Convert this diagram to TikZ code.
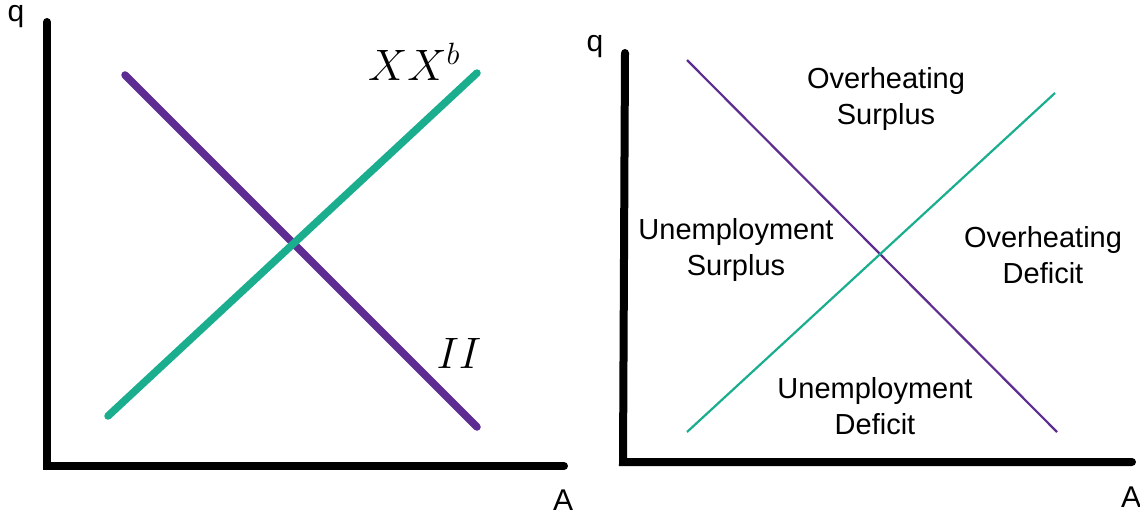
\RequirePackage{fix-cm}
\documentclass[tikz,border=0pt]{standalone}
\usepackage{fontspec}
\newfontfamily\hv{Liberation Sans}
\definecolor{ipurple}{RGB}{93,45,145}
\definecolor{igreen}{RGB}{26,174,142}
\begin{document}
\begin{tikzpicture}[x=1pt,y=-1pt,
  axis/.style={line width=8pt,line cap=round,black},
  thick curve/.style={line width=7.5pt,line cap=round},
  thin curve/.style={line width=2.2pt},
  lbl/.style={font=\hv\fontsize{29}{36}\selectfont,align=center,inner sep=0pt},
  axlbl/.style={font=\hv\fontsize{30}{34}\selectfont,inner sep=0pt},
  mlbl/.style={inner sep=0pt,font=\fontsize{44}{50}\selectfont}]
\useasboundingbox (0,0) rectangle (1140,516);
% left panel
\coordinate (Lo) at (47,466);
\coordinate (Ly) at (47,22);
\coordinate (Lx) at (564,466);
\draw[axis] (Ly) -- (Lo) -- (Lx);
\node[axlbl] (Lq) at (16,17) {q};
\node[axlbl] (LA) at (563,500) {A};
\coordinate (LI1) at (125,75);
\coordinate (LI2) at (477,427);
\coordinate (LX1) at (108,416);
\coordinate (LX2) at (477,73);
\draw[thick curve,ipurple] (LI1) -- (LI2);
\draw[thick curve,igreen] (LX1) -- (LX2);
\node[mlbl] (XX) at (414,62) {$XX^b$};
\node[mlbl] (II) at (459,353) {$II$};
% right panel
\coordinate (Ro) at (623,462);
\coordinate (Ry) at (625,53);
\coordinate (Rx) at (1132,462);
\draw[axis] (Ry) -- (Ro) -- (Rx);
\node[axlbl] (Rq) at (595,47) {q};
\node[axlbl] (RA) at (1131,497) {A};
\coordinate (RI1) at (687,60);
\coordinate (RI2) at (1057,432);
\coordinate (RX1) at (687,432);
\coordinate (RX2) at (1055,93);
\draw[thin curve,ipurple] (RI1) -- (RI2);
\draw[thin curve,igreen] (RX1) -- (RX2);
\node[lbl] (OS) at (886,99) {Overheating\\Surplus};
\node[lbl] (US) at (736,250) {Unemployment\\Surplus};
\node[lbl] (OD) at (1043,255) {Overheating\\Deficit};
\node[lbl] (UD) at (875,406) {Unemployment\\Deficit};
\end{tikzpicture}
\end{document}
